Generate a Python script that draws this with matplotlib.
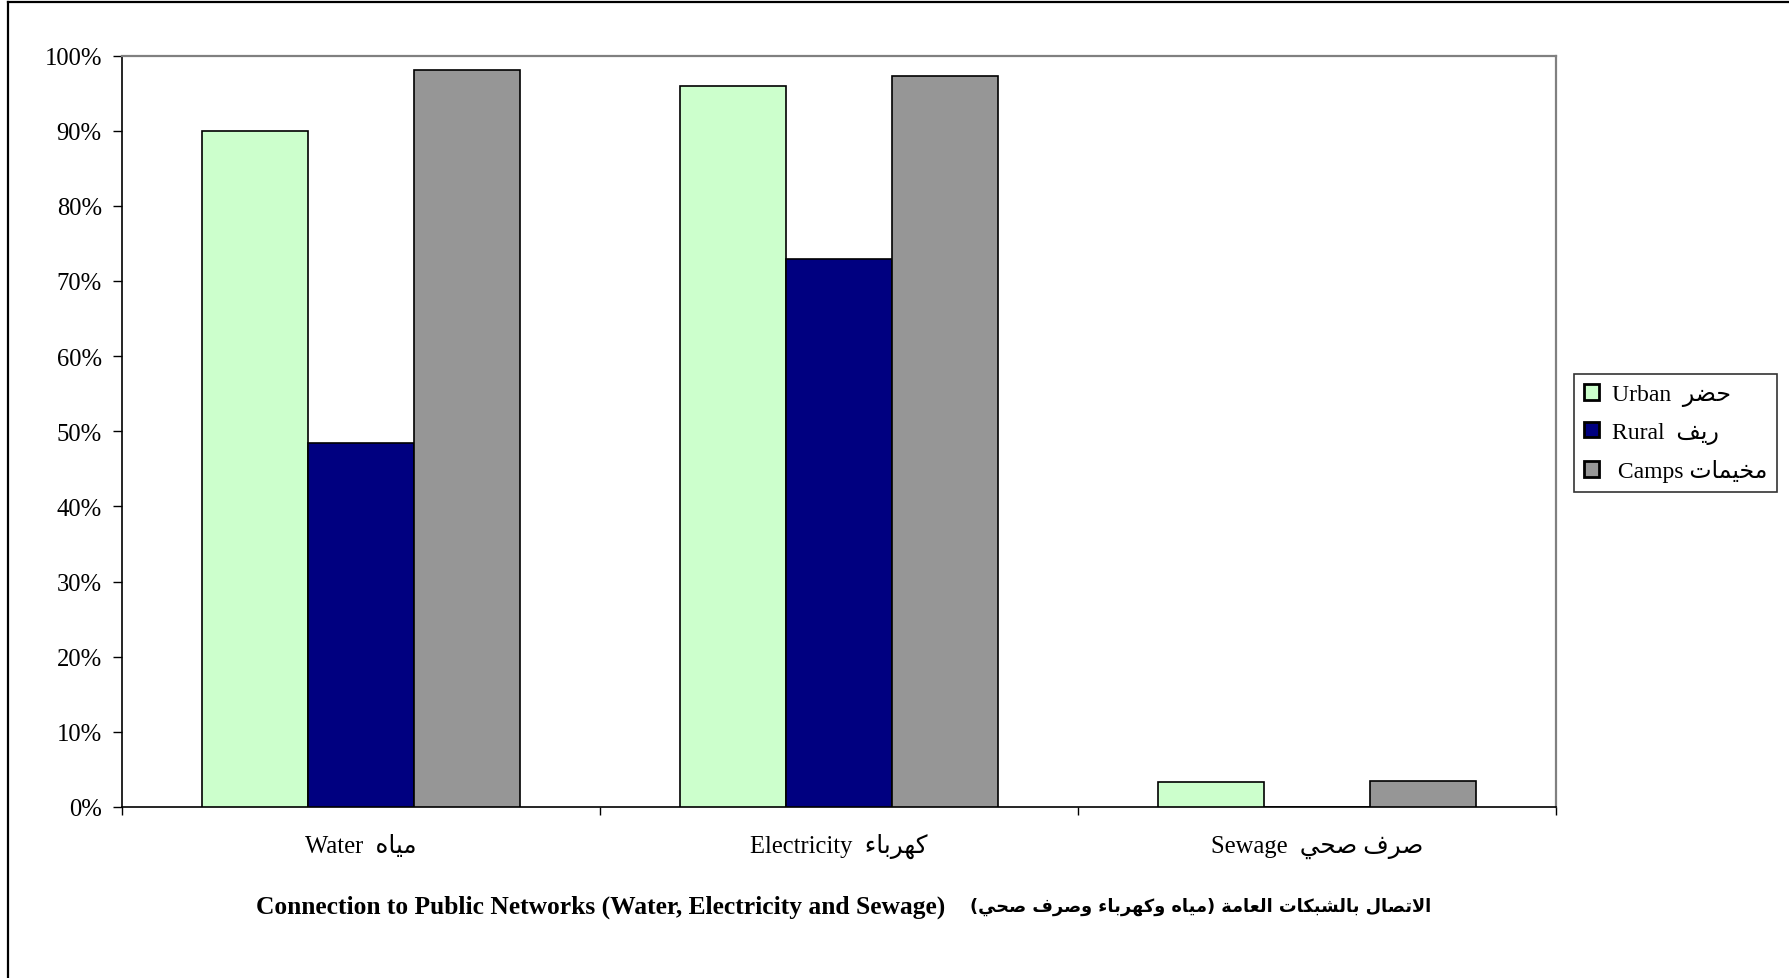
import numpy as np
import matplotlib
matplotlib.use('Agg')
import matplotlib.pyplot as plt
from matplotlib.lines import Line2D
from matplotlib.patches import Patch

# ---------------- data ----------------
categories_en = ['Water', 'Electricity', 'Sewage']
categories_ar = ['مياه', 'كهرباء', 'صرف صحي']
series_en = ['Urban', 'Rural', 'Camps']
series_ar = ['حضر', 'ريف', 'مخيمات']
urban = [90.0, 96.0, 3.3]
rural = [48.4, 72.9, 0.0]
camps = [98.1, 97.3, 3.4]
ytick_values = [0, 10, 20, 30, 40, 50, 60, 70, 80, 90, 100]
title_en = 'Connection to Public Networks (Water, Electricity and Sewage)'
title_ar = 'الاتصال بالشبكات العامة (مياه وكهرباء وصرف صحي)'

# ------------- minimal Arabic shaping (matplotlib has no shaping/bidi) -------------
FORMS = {  # isolated, final, initial, medial
    'ء': (0xFE80, None, None, None),
    'ا': (0xFE8D, 0xFE8E, None, None),
    'ب': (0xFE8F, 0xFE90, 0xFE91, 0xFE92),
    'ة': (0xFE93, 0xFE94, None, None),
    'ت': (0xFE95, 0xFE96, 0xFE97, 0xFE98),
    'ح': (0xFEA1, 0xFEA2, 0xFEA3, 0xFEA4),
    'خ': (0xFEA5, 0xFEA6, 0xFEA7, 0xFEA8),
    'ر': (0xFEAD, 0xFEAE, None, None),
    'ش': (0xFEB5, 0xFEB6, 0xFEB7, 0xFEB8),
    'ص': (0xFEB9, 0xFEBA, 0xFEBB, 0xFEBC),
    'ض': (0xFEBD, 0xFEBE, 0xFEBF, 0xFEC0),
    'ع': (0xFEC9, 0xFECA, 0xFECB, 0xFECC),
    'ف': (0xFED1, 0xFED2, 0xFED3, 0xFED4),
    'ك': (0xFED9, 0xFEDA, 0xFEDB, 0xFEDC),
    'ل': (0xFEDD, 0xFEDE, 0xFEDF, 0xFEE0),
    'م': (0xFEE1, 0xFEE2, 0xFEE3, 0xFEE4),
    'ه': (0xFEE9, 0xFEEA, 0xFEEB, 0xFEEC),
    'و': (0xFEED, 0xFEEE, None, None),
    'ي': (0xFEF1, 0xFEF2, 0xFEF3, 0xFEF4),
    'لا': (0xFEFB, 0xFEFC, None, None),
}


def shape_ar(s):
    units = []
    i = 0
    while i < len(s):
        if s[i] == 'ل' and i + 1 < len(s) and s[i + 1] == 'ا':
            units.append('لا')
            i += 2
        else:
            units.append(s[i])
            i += 1
    out = []
    for k, u in enumerate(units):
        if u not in FORMS:
            out.append(u)
            continue
        f = FORMS[u]
        prev = units[k - 1] if k > 0 else None
        nxt = units[k + 1] if k + 1 < len(units) else None
        pj = prev in FORMS and FORMS[prev][2] is not None and f[1] is not None
        nj = f[2] is not None and nxt in FORMS and FORMS[nxt][1] is not None
        if pj and nj:
            out.append(chr(f[3]))
        elif pj:
            out.append(chr(f[1]))
        elif nj:
            out.append(chr(f[2]))
        else:
            out.append(chr(f[0]))
    vis = ''.join(out)[::-1]
    vis = vis.translate(str.maketrans('()', ')('))
    return vis


FAM = ['Liberation Serif', 'DejaVu Sans']
FS = 17.7

W, H = 1789, 979
fig = plt.figure(figsize=(W / 100, H / 100), dpi=100)
fig.patch.set_facecolor('white')

L, R, T, B = 122, 1556, 56.5, 808
ax = fig.add_axes([L / W, 1 - B / H, (R - L) / W, (B - T) / H])

x = np.arange(len(categories_en))
bw = 0.2222
colors = ['#CCFFCC', '#000080', '#969696']
series_vals = [urban, rural, camps]
for j, (vals, c) in enumerate(zip(series_vals, colors)):
    ax.bar(x + (j - 1) * bw, vals, width=bw, color=c, edgecolor='black',
           linewidth=1.2, zorder=3)

ax.set_xlim(-0.5, len(categories_en) - 0.5)
ax.set_ylim(0, 100)

ax.set_yticks(ytick_values)
ax.set_yticklabels([f'{v}%' for v in ytick_values], fontfamily=FAM, fontsize=FS)
ax.tick_params(axis='y', direction='out', length=6.5, width=1.0, pad=8)

ax.set_xticks(np.arange(len(categories_en) + 1) - 0.5)
ax.set_xticklabels([])
ax.tick_params(axis='x', which='major', direction='out', length=6, width=1.0)
ax.set_xticks(x, [f'{e}  {shape_ar(a)}' for e, a in zip(categories_en, categories_ar)],
              minor=True)
ax.tick_params(axis='x', which='minor', length=0, pad=32.4)
for lab in ax.get_xticklabels(minor=True):
    lab.set_fontfamily(FAM)
    lab.set_fontsize(FS)
    lab.set_verticalalignment('baseline')

for s in ['top', 'right']:
    ax.spines[s].set_color('#808080')
    ax.spines[s].set_linewidth(1.6)
for s in ['left', 'bottom']:
    ax.spines[s].set_color('black')
    ax.spines[s].set_linewidth(1.2)

# legend
handles = [Patch(facecolor=c, edgecolor='black', linewidth=2.0) for c in colors]
labels = []
for k, (e, a) in enumerate(zip(series_en, series_ar)):
    if k == 2:
        labels.append(f' {e} {shape_ar(a)}')
    else:
        labels.append(f'{e}  {shape_ar(a)}')
leg = fig.legend(handles, labels, loc='upper right',
                 bbox_to_anchor=(1777 / W, 1 - 375 / H),
                 frameon=True, fancybox=False, shadow=False,
                 prop={'family': FAM, 'size': 17},
                 handlelength=0.64, handleheight=0.64, handletextpad=0.55,
                 labelspacing=0.66, borderpad=0.42, borderaxespad=0)
leg.get_frame().set_edgecolor('black')
leg.get_frame().set_linewidth(1.2)

# title (bottom): English part and Arabic part
fig.text(945 / W, 1 - 907 / H, title_en, ha='right', va='center',
         fontfamily=FAM, fontsize=18.4, fontweight='bold')
fig.text(970 / W, 1 - 907 / H, shape_ar(title_ar), ha='left', va='center',
         fontfamily=['DejaVu Sans'], fontsize=12.8, fontweight='bold')

# figure border (top and left visible)
fig.add_artist(Line2D([8 / W, 8 / W], [0, 1 - 3 / H], transform=fig.transFigure,
                      color='black', linewidth=1.6))
fig.add_artist(Line2D([8 / W, 1], [1 - 3 / H, 1 - 3 / H], transform=fig.transFigure,
                      color='black', linewidth=1.6))

fig.savefig('out.png', dpi=100, facecolor='white')
